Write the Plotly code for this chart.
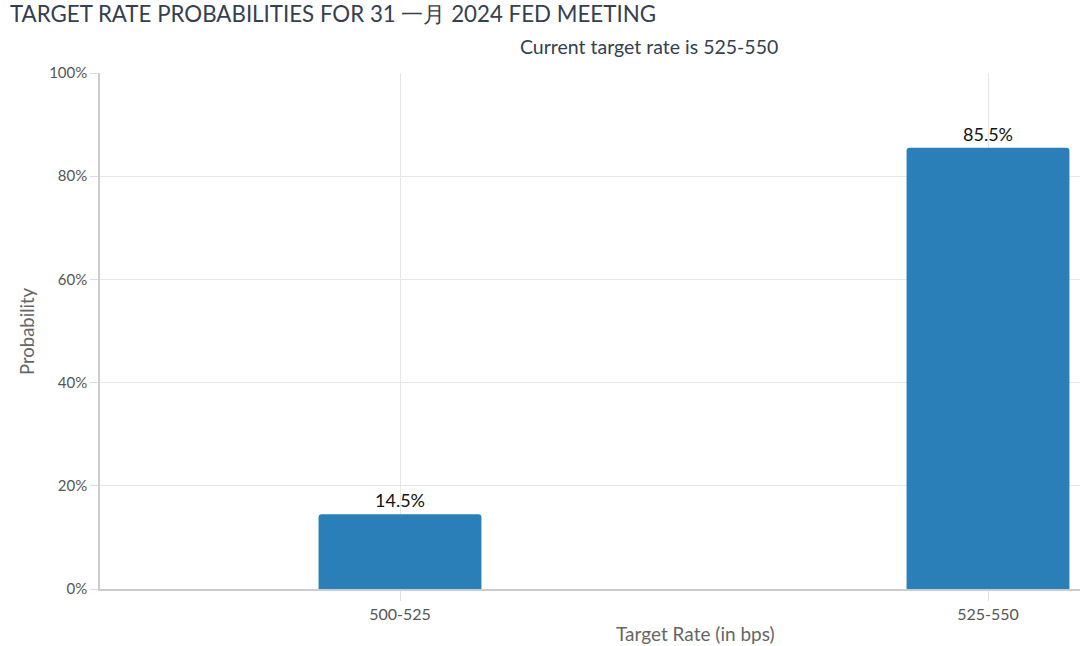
import plotly.graph_objects as go

categories = ["500-525", "525-550"]
probabilities = [14.5, 85.5]
y_ticks = [0, 20, 40, 60, 80, 100]
y_tick_labels = ["0%", "20%", "40%", "60%", "80%", "100%"]

W, H = 1080, 646
L, R, T, B = 100, 0, 73, 57
PW = W - L - R
PH = H - T - B

def px_x(px):
    return (px - L) / PW

def px_y(py):
    return (H - B - py) / PH

font_family = "Lato, 'Open Sans', sans-serif"

fig = go.Figure(go.Bar(
    x=categories,
    y=probabilities,
    width=0.277,
    marker=dict(color="#2a7fb8", line=dict(width=0)),
    text=[f"{v}%" for v in probabilities],
    textposition="outside",
    textfont=dict(family=font_family, size=18, color="#111111"),
    cliponaxis=False,
    hoverinfo="skip",
))

fig.update_layout(
    width=W, height=H,
    margin=dict(l=L, r=R, t=T, b=B, pad=0),
    paper_bgcolor="white",
    plot_bgcolor="white",
    showlegend=False,
    barcornerradius=3,
    font=dict(family=font_family, color="#666666", size=15),
    title=dict(
        text="TARGET RATE PROBABILITIES FOR 31 一月 2024 FED MEETING",
        x=10 / W, xref="container", xanchor="left",
        y=1 - 14 / H, yref="container", yanchor="middle",
        font=dict(family=font_family, size=22.3, color="#34404e"),
    ),
    xaxis=dict(
        type="category",
        range=[-300 / 588, (PW - 300) / 588],
        showgrid=True, gridcolor="#e6e6e6", gridwidth=1,
        showline=True, linecolor="#cccccc", linewidth=1.5,
        ticks="outside", ticklen=10, tickcolor="#e0e0e0", tickwidth=1,
        tickfont=dict(family=font_family, size=16, color="#555555"),
        zeroline=False, fixedrange=True,
    ),
    yaxis=dict(
        range=[0, 100],
        tickvals=y_ticks, ticktext=y_tick_labels,
        showgrid=True, gridcolor="#e6e6e6", gridwidth=1,
        showline=True, linecolor="#cccccc", linewidth=1.5,
        ticks="outside", ticklen=8, tickcolor="#dddddd", tickwidth=1,
        tickfont=dict(family=font_family, size=15, color="#555555"),
        zeroline=False, fixedrange=True,
    ),
    annotations=[
        dict(text="Current target rate is 525-550", xref="paper", yref="paper",
             x=px_x(649), y=px_y(47), xanchor="center", yanchor="middle",
             showarrow=False, font=dict(family=font_family, size=19.5, color="#34404e")),
        dict(text="Target Rate (in bps)", xref="paper", yref="paper",
             x=px_x(695), y=px_y(633), xanchor="center", yanchor="middle",
             showarrow=False, font=dict(family=font_family, size=19, color="#666666")),
        dict(text="Probability", xref="paper", yref="paper",
             x=px_x(27), y=px_y(331), xanchor="center", yanchor="middle",
             textangle=-90, showarrow=False,
             font=dict(family=font_family, size=18.5, color="#666666")),
    ],
)

fig.write_html(
    "out.html",
    config={"displayModeBar": False},
    post_script="document.body.style.margin='0';document.body.style.overflow='hidden';",
)
